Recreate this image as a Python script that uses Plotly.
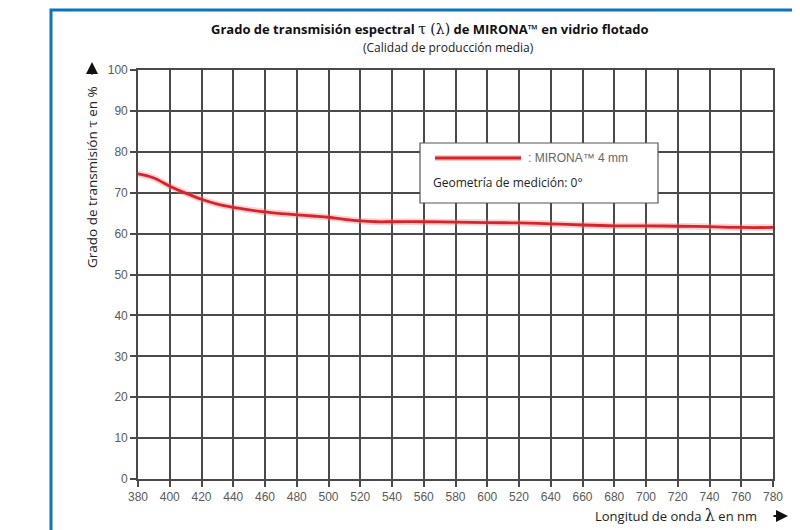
import plotly.graph_objects as go

wavelength = [380, 390, 400, 410, 420, 430, 440, 450, 460, 470, 480, 490, 500, 510,
              520, 530, 540, 560, 580, 600, 620, 640, 660, 680, 700, 720, 740, 760, 780]
transmission = [74.6, 73.6, 71.6, 69.9, 68.4, 67.2, 66.4, 65.8, 65.3, 64.9, 64.6, 64.3,
                64.0, 63.5, 63.1, 62.9, 62.9, 62.9, 62.8, 62.7, 62.6, 62.4, 62.1, 61.9,
                61.9, 61.8, 61.7, 61.5, 61.5]

x_tick_vals = [380, 400, 420, 440, 460, 480, 500, 520, 540, 560, 580, 600, 620, 640,
               660, 680, 700, 720, 740, 760, 780]
x_tick_text = ["380", "400", "420", "440", "460", "480", "500", "520", "540", "560", "580",
               "600", "520", "640", "660", "680", "700", "720", "740", "760", "780"]
y_tick_vals = [0, 10, 20, 30, 40, 50, 60, 70, 80, 90, 100]

series_name = ": MIRONA™ 4 mm"
note_text = "Geometría de medición: 0°"
title_text = ("<b>Grado de transmisión espectral </b>"
              "<span style='font-family:DejaVu Serif;font-size:14px'>τ (λ)</span>"
              "<b> de MIRONA™ en vidrio flotado</b>")
subtitle_text = "(Calidad de producción media)"
y_title = "Grado de transmisión <span style='font-family:DejaVu Serif'>τ</span> en %"
x_title = "Longitud de onda <span style='font-family:DejaVu Serif;font-size:16px'>λ</span> en nm"

RED = "#d7242c"
GRID = "#4a4a4a"
TICKFONT = dict(family="Liberation Sans Narrow, Arial Narrow, Liberation Sans, sans-serif",
                size=12, color="#5a5a5a")
TEXTFONT = "Open Sans, Noto Sans, sans-serif"

# plot area in page pixels (page has an 8px body offset)
PL, PR, PT, PB = 138, 773, 70, 479
W = PR - PL
H = PB - PT


def px(x):
    return (x - PL) / W


def py(y):
    return (PB - y) / H


fig = go.Figure()
fig.add_trace(go.Scatter(x=wavelength, y=transmission, mode="lines",
                         line=dict(color="rgba(240,120,120,0.35)", width=6.5, shape="spline"),
                         hoverinfo="skip", showlegend=False))
fig.add_trace(go.Scatter(x=wavelength, y=transmission, mode="lines",
                         line=dict(color=RED, width=2.8, shape="spline"),
                         showlegend=False))

fig.update_layout(
    width=800, height=530,
    margin=dict(l=PL - 8, r=800 - (PR - 8), t=PT - 8, b=530 - (PB - 8)),
    paper_bgcolor="white", plot_bgcolor="white",
    showlegend=False,
    xaxis=dict(range=[380, 780], tickvals=x_tick_vals, ticktext=x_tick_text,
               showgrid=True, gridcolor=GRID, gridwidth=1.6,
               showline=True, linecolor=GRID, linewidth=1.6, mirror=True,
               ticks="outside", ticklen=6, tickcolor=GRID, tickwidth=1.6,
               tickfont=TICKFONT, zeroline=False, fixedrange=True),
    yaxis=dict(range=[0, 100], tickvals=y_tick_vals,
               showgrid=True, gridcolor=GRID, gridwidth=1.6,
               showline=True, linecolor=GRID, linewidth=1.6, mirror=True,
               ticks="outside", ticklen=6, tickcolor=GRID, tickwidth=1.6,
               tickfont=TICKFONT, zeroline=False, fixedrange=True),
)

shapes = []
shapes.append(dict(type="rect", xref="paper", yref="paper",
                   x0=px(51), x1=px(900), y0=py(700), y1=py(10),
                   line=dict(color="#0b72bf", width=3), fillcolor="rgba(0,0,0,0)", layer="above"))
shapes.append(dict(type="rect", xref="paper", yref="paper",
                   x0=px(420), x1=px(658), y0=py(203), y1=py(143),
                   line=dict(color="#555555", width=1.2), fillcolor="white", layer="above"))
shapes.append(dict(type="line", xref="paper", yref="paper",
                   x0=px(435), x1=px(521), y0=py(158), y1=py(158),
                   line=dict(color="rgba(240,120,120,0.4)", width=6), layer="above"))
shapes.append(dict(type="line", xref="paper", yref="paper",
                   x0=px(435), x1=px(521), y0=py(158), y1=py(158),
                   line=dict(color=RED, width=3), layer="above"))
fig.update_layout(shapes=shapes)

ann = []
ann.append(dict(xref="paper", yref="paper", x=px(430), y=py(29),
                text=title_text, showarrow=False, xanchor="center", yanchor="middle",
                font=dict(family=TEXTFONT, size=13, color="#111111")))
ann.append(dict(xref="paper", yref="paper", x=px(448), y=py(47),
                text=subtitle_text, showarrow=False, xanchor="center", yanchor="middle",
                font=dict(family=TEXTFONT, size=12, color="#222222")))
ann.append(dict(xref="paper", yref="paper", x=px(526), y=py(158),
                text=series_name, showarrow=False, xanchor="left", yanchor="middle",
                font=dict(family="Liberation Sans, Arial, sans-serif", size=12, color="#666666")))
ann.append(dict(xref="paper", yref="paper", x=px(431), y=py(182),
                text=note_text, showarrow=False, xanchor="left", yanchor="middle",
                font=dict(family=TEXTFONT, size=12, color="#222222")))
ann.append(dict(xref="paper", yref="paper", x=px(92), y=py(177),
                text=y_title, showarrow=False, textangle=-90, xanchor="center", yanchor="middle",
                font=dict(family=TEXTFONT, size=13.5, color="#222222")))
ann.append(dict(xref="paper", yref="paper", x=px(759), y=py(515),
                text=x_title, showarrow=False, xanchor="right", yanchor="middle",
                font=dict(family=TEXTFONT, size=13, color="#222222")))
ann.append(dict(xref="paper", yref="paper", x=px(788), y=py(516),
                ax=-16, ay=0, text="", showarrow=True, arrowhead=2, arrowsize=1.2,
                arrowwidth=2, arrowcolor="#111111"))
ann.append(dict(xref="paper", yref="paper", x=px(92), y=py(62),
                ax=0, ay=14, text="", showarrow=True, arrowhead=2, arrowsize=1.2,
                arrowwidth=2, arrowcolor="#111111"))
fig.update_layout(annotations=ann)

fig.write_html("out.html")
